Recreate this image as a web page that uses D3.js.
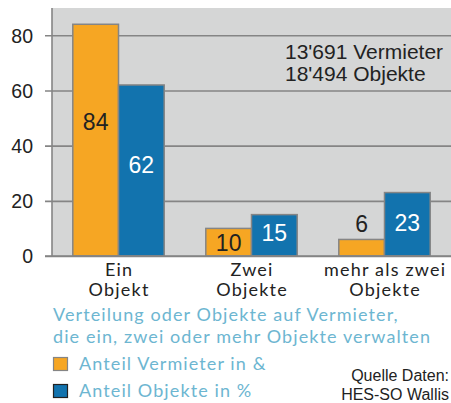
<!DOCTYPE html>
<html>
<head>
<meta charset="utf-8">
<script src="https://cdn.jsdelivr.net/npm/d3@7"></script>
<style>
  body { margin: 0; background: #fff; }
  svg { display: block; }
</style>
</head>
<body>
<svg id="chart" width="451" height="403"></svg>
<script>
// data
const categories = [["Ein", "Objekt"], ["Zwei", "Objekte"], ["mehr als zwei", "Objekte"]];
const vermieter = [84, 10, 6];
const objekte = [62, 15, 23];
const yTicks = [0, 20, 40, 60, 80];
const series = ["Anteil Vermieter in &", "Anteil Objekte in %"];
const colors = ["#f6a623", "#1273ae"];
const noteLines = ["13'691 Vermieter", "18'494 Objekte"];
const titleLines = ["Verteilung oder Objekte auf Vermieter,", "die ein, zwei oder mehr Objekte verwalten"];
const sourceLines = ["Quelle Daten:", "HES-SO Wallis"];

const svg = d3.select("#chart");
const plotL = 52, plotR = 451, plotT = 8, plotB = 256;

const x = d3.scaleBand().domain(d3.range(categories.length)).range([plotL, plotR]);
const y = d3.scaleLinear().domain([0, 89.9]).range([plotB, plotT]);
const barW = 45.7;

// plot background
svg.append("rect")
  .attr("x", plotL).attr("y", plotT)
  .attr("width", plotR - plotL).attr("height", plotB - plotT)
  .attr("fill", "#d5d6d6");

// grid + ticks
const yAxis = svg.append("g")
  .attr("transform", `translate(${plotL},0)`)
  .call(d3.axisLeft(y).tickValues(yTicks).tickSizeOuter(0).tickPadding(0));
yAxis.select(".domain").remove();
yAxis.selectAll(".tick line")
  .attr("x1", -7).attr("x2", plotR - plotL)
  .attr("stroke", "#858585").attr("stroke-width", 1.6);
yAxis.selectAll(".tick text")
  .attr("x", -19)
  .attr("dy", "0.35em")
  .style("font-family", "Liberation Sans, Arial, sans-serif")
  .style("font-size", "19.5px")
  .attr("fill", "#222");

// y axis line
svg.append("line")
  .attr("x1", plotL).attr("x2", plotL).attr("y1", plotT).attr("y2", plotB)
  .attr("stroke", "#858585").attr("stroke-width", 1.6);

// bars
const groups = svg.append("g").selectAll("g")
  .data(categories.map((c, i) => i))
  .join("g");

groups.append("rect")
  .attr("x", i => x(i) + x.bandwidth() / 2 - barW)
  .attr("y", i => y(vermieter[i]))
  .attr("width", barW)
  .attr("height", i => y(0) - y(vermieter[i]))
  .attr("fill", colors[0])
  .attr("stroke", "#858585").attr("stroke-width", 1.5);

groups.append("rect")
  .attr("x", i => x(i) + x.bandwidth() / 2)
  .attr("y", i => y(objekte[i]))
  .attr("width", barW)
  .attr("height", i => y(0) - y(objekte[i]))
  .attr("fill", colors[1])
  .attr("stroke", "#858585").attr("stroke-width", 1.5);

// value labels
const valueFont = "Liberation Sans, Arial, sans-serif";
const vY = [122, 243, 224];
const oY = [165, 233, 223];
groups.append("text")
  .attr("x", i => x(i) + x.bandwidth() / 2 - barW / 2)
  .attr("y", i => vY[i])
  .attr("dy", "0.35em")
  .attr("text-anchor", "middle")
  .style("font-family", valueFont).style("font-size", "23px")
  .attr("fill", "#222")
  .text(i => vermieter[i]);
groups.append("text")
  .attr("x", i => x(i) + x.bandwidth() / 2 + barW / 2)
  .attr("y", i => oY[i])
  .attr("dy", "0.35em")
  .attr("text-anchor", "middle")
  .style("font-family", valueFont).style("font-size", "23px")
  .attr("fill", "#fff")
  .text(i => objekte[i]);

// bottom axis line
svg.append("line")
  .attr("x1", plotL - 7).attr("x2", plotR).attr("y1", plotB).attr("y2", plotB)
  .attr("stroke", "#858585").attr("stroke-width", 1.6);

// category labels
groups.append("text")
  .attr("text-anchor", "middle")
  .style("font-family", "Lato, sans-serif").style("font-size", "18px")
  .style("letter-spacing", "1.2px")
  .attr("fill", "#222")
  .selectAll("tspan")
  .data(i => categories[i].map(t => [i, t]))
  .join("tspan")
  .attr("x", d => x(d[0]) + x.bandwidth() / 2 + 0.6)
  .attr("y", (d, j) => 276 + j * 20)
  .text(d => d[1]);

// note
svg.append("g").selectAll("text")
  .data(noteLines)
  .join("text")
  .attr("x", 285)
  .attr("y", (d, i) => 59 + i * 22)
  .style("font-family", valueFont).style("font-size", "21px")
  .attr("fill", "#222")
  .text(d => d);

// title
svg.append("g").selectAll("text")
  .data(titleLines)
  .join("text")
  .attr("x", 53)
  .attr("y", (d, i) => 321 + i * 22)
  .style("font-family", "Lato, sans-serif").style("font-size", "18px")
  .style("letter-spacing", "1.1px")
  .attr("fill", "#6db6d1")
  .text(d => d);

// legend
const legend = svg.append("g").selectAll("g")
  .data(series)
  .join("g")
  .attr("transform", (d, i) => `translate(53,${357 + i * 27})`);
legend.append("rect")
  .attr("x", 0.5).attr("y", 0.5)
  .attr("width", 14).attr("height", 13)
  .attr("fill", (d, i) => colors[i])
  .attr("stroke", (d, i) => i === 0 ? "#858585" : "#222").attr("stroke-width", 1.2);
legend.append("text")
  .attr("x", 26).attr("y", 7)
  .attr("dy", "0.35em")
  .style("font-family", "Lato, sans-serif").style("font-size", "18px")
  .style("letter-spacing", "1.1px")
  .attr("fill", "#6db6d1")
  .text(d => d);

// source
svg.append("g").selectAll("text")
  .data(sourceLines)
  .join("text")
  .attr("x", 449)
  .attr("y", (d, i) => 381 + i * 18.5)
  .attr("text-anchor", "end")
  .style("font-family", valueFont).style("font-size", "16px")
  .attr("fill", "#222")
  .text(d => d);
</script>
</body>
</html>
